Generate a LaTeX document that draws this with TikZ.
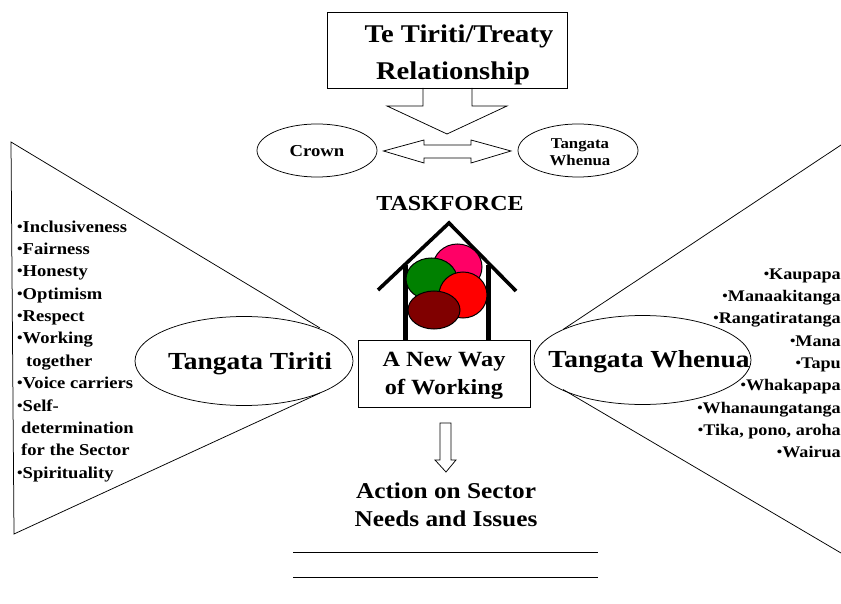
\documentclass[tikz,border=0pt]{standalone}
\usepackage{fontspec}
\usepackage{graphicx}
\usetikzlibrary{shapes.geometric}
\setmainfont{Liberation Serif}[BoldFont={Liberation Serif Bold},BoldFeatures={FakeStretch=1.12}]
\newcommand{\bul}{\raisebox{0.06em}{\scalebox{0.85}{•}}}
\begin{document}
\begin{tikzpicture}[x=1pt,y=-1pt,
  thin line/.style={draw=black,line width=0.75pt},
  oval/.style={ellipse,thin line,inner sep=0pt},
  lbl/.style={inner sep=0pt,align=center,font=\bfseries},
  blob/.style={draw=black,line width=1pt},
  houseline/.style={draw=black,line width=3.6pt},
  wall/.style={draw=black,line width=5pt},
  listtext/.style={inner sep=0pt,font=\fontsize{16.6}{22.35}\selectfont\bfseries},
  listtextright/.style={inner sep=0pt,font=\fontsize{16.2}{22.3}\selectfont\bfseries}]
\useasboundingbox (0,0) rectangle (841,604);
\fill[white] (0,0) rectangle (841,604);
% cones
\coordinate (lt) at (11,142);
\coordinate (lb) at (14,534);
\coordinate (lu) at (320,328);
\coordinate (ld) at (320,393);
\coordinate (rt) at (841,145);
\coordinate (rb) at (841,553);
\coordinate (ru) at (563,329.5);
\coordinate (rd) at (563,389.5);
\draw[thin line] (lu) -- (lt) -- (lb) -- (ld);
\draw[thin line] (rt) -- (ru);
\draw[thin line] (rb) -- (rd);
% top box and block arrows
\node[rectangle,thin line,minimum width=240pt,minimum height=76pt,inner sep=0pt] (treaty) at (447,50) {};
\node[lbl,font=\fontsize{25.5}{34}\selectfont\bfseries] (treatyone) at (459,36) {Te Tiriti/Treaty};
\node[lbl,font=\fontsize{25.5}{34}\selectfont\bfseries] (treatytwo) at (453,73) {Relationship};
\draw[thin line] (423,88) -- (423,106) -- (387,106) -- (447,134) -- (507,106) -- (472,106) -- (472,88);
\node[oval,minimum width=120pt,minimum height=53pt] (crown) at (317,150.5) {};
\node[lbl,font=\fontsize{16.7}{18}\selectfont\bfseries] (crowntext) at (317,151) {Crown};
\node[oval,minimum width=120pt,minimum height=53pt] (whenuasmall) at (578,150.5) {};
\node[lbl,font=\fontsize{15}{16.5}\selectfont\bfseries] (whenuasmalltext) at (580,152) {Tangata\\Whenua};
\draw[thin line] (383.5,151) -- (424,140) -- (424,145) -- (471,145) -- (471,140) -- (511,151) -- (471,163) -- (471,158) -- (424,158) -- (424,163) -- cycle;
\node[lbl,font=\fontsize{21.4}{24}\selectfont\bfseries] (taskforce) at (450,204) {TASKFORCE};
% house
\draw[houseline] (378,290) -- (449,223) -- (516,291);
\draw[wall] (405,265) -- (405,340);
\draw[wall] (488,265) -- (488,340);
\node[ellipse,blob,fill={rgb,255:red,255;green,0;blue,102},minimum width=49pt,minimum height=46pt,inner sep=0pt] (pink) at (457.5,267) {};
\node[ellipse,blob,fill={rgb,255:red,0;green,128;blue,0},minimum width=51pt,minimum height=42pt,inner sep=0pt] (greenblob) at (431.5,279) {};
\node[ellipse,blob,fill={rgb,255:red,255;green,0;blue,0},minimum width=48pt,minimum height=46pt,inner sep=0pt] (redblob) at (463,295) {};
\node[ellipse,blob,fill={rgb,255:red,128;green,0;blue,0},minimum width=52pt,minimum height=38pt,inner sep=0pt] (darkblob) at (434,310) {};
\node[rectangle,thin line,fill=white,minimum width=172pt,minimum height=67pt,inner sep=0pt] (newway) at (444,373.5) {};
\node[lbl,font=\fontsize{21.7}{28}\selectfont\bfseries] (newwaytext) at (444,376) {A New Way\\of Working};
% ovals
\node[oval,minimum width=218pt,minimum height=89pt] (tiriti) at (244,361) {};
\node[lbl,font=\fontsize{24.5}{28}\selectfont\bfseries] (tiritilabel) at (250,363.5) {Tangata Tiriti};
\node[oval,minimum width=217pt,minimum height=89pt] (whenua) at (642.5,360) {};
\node[lbl,font=\fontsize{24.5}{28}\selectfont\bfseries] (whenualabel) at (649,362) {Tangata Whenua};
% down arrow
\draw[thin line] (440,423) -- (451,423) -- (451,460) -- (456,460) -- (446,472) -- (435,460) -- (440,460) -- cycle;
\node[lbl,font=\fontsize{22.6}{28}\selectfont\bfseries] (action) at (446,505) {Action on Sector\\Needs and Issues};
\coordinate (la) at (293,552);
\coordinate (lc) at (598,552);
\coordinate (le) at (293,577);
\coordinate (lf) at (598,577);
\draw[thin line] (la) -- (lc);
\draw[thin line] (le) -- (lf);
% lists
\node[listtext,anchor=north west,align=left] (leftlist) at (17,220.5) {\bul Inclusiveness\\\bul Fairness\\\bul Honesty\\\bul Optimism\\\bul Respect\\\bul Working\\\hspace{9pt}together\\\bul Voice carriers\\\bul Self-\\\hspace{4pt}determination\\\hspace{4pt}for the Sector\\\bul Spirituality};
\node[listtextright,anchor=north east,align=right] (rightlist) at (841,268.5) {\bul Kaupapa\\\bul Manaakitanga\\\bul Rangatiratanga\\\bul Mana\\\bul Tapu\\\bul Whakapapa\\\bul Whanaungatanga\\\bul Tika, pono, aroha\\\bul Wairua};
\end{tikzpicture}
\end{document}
